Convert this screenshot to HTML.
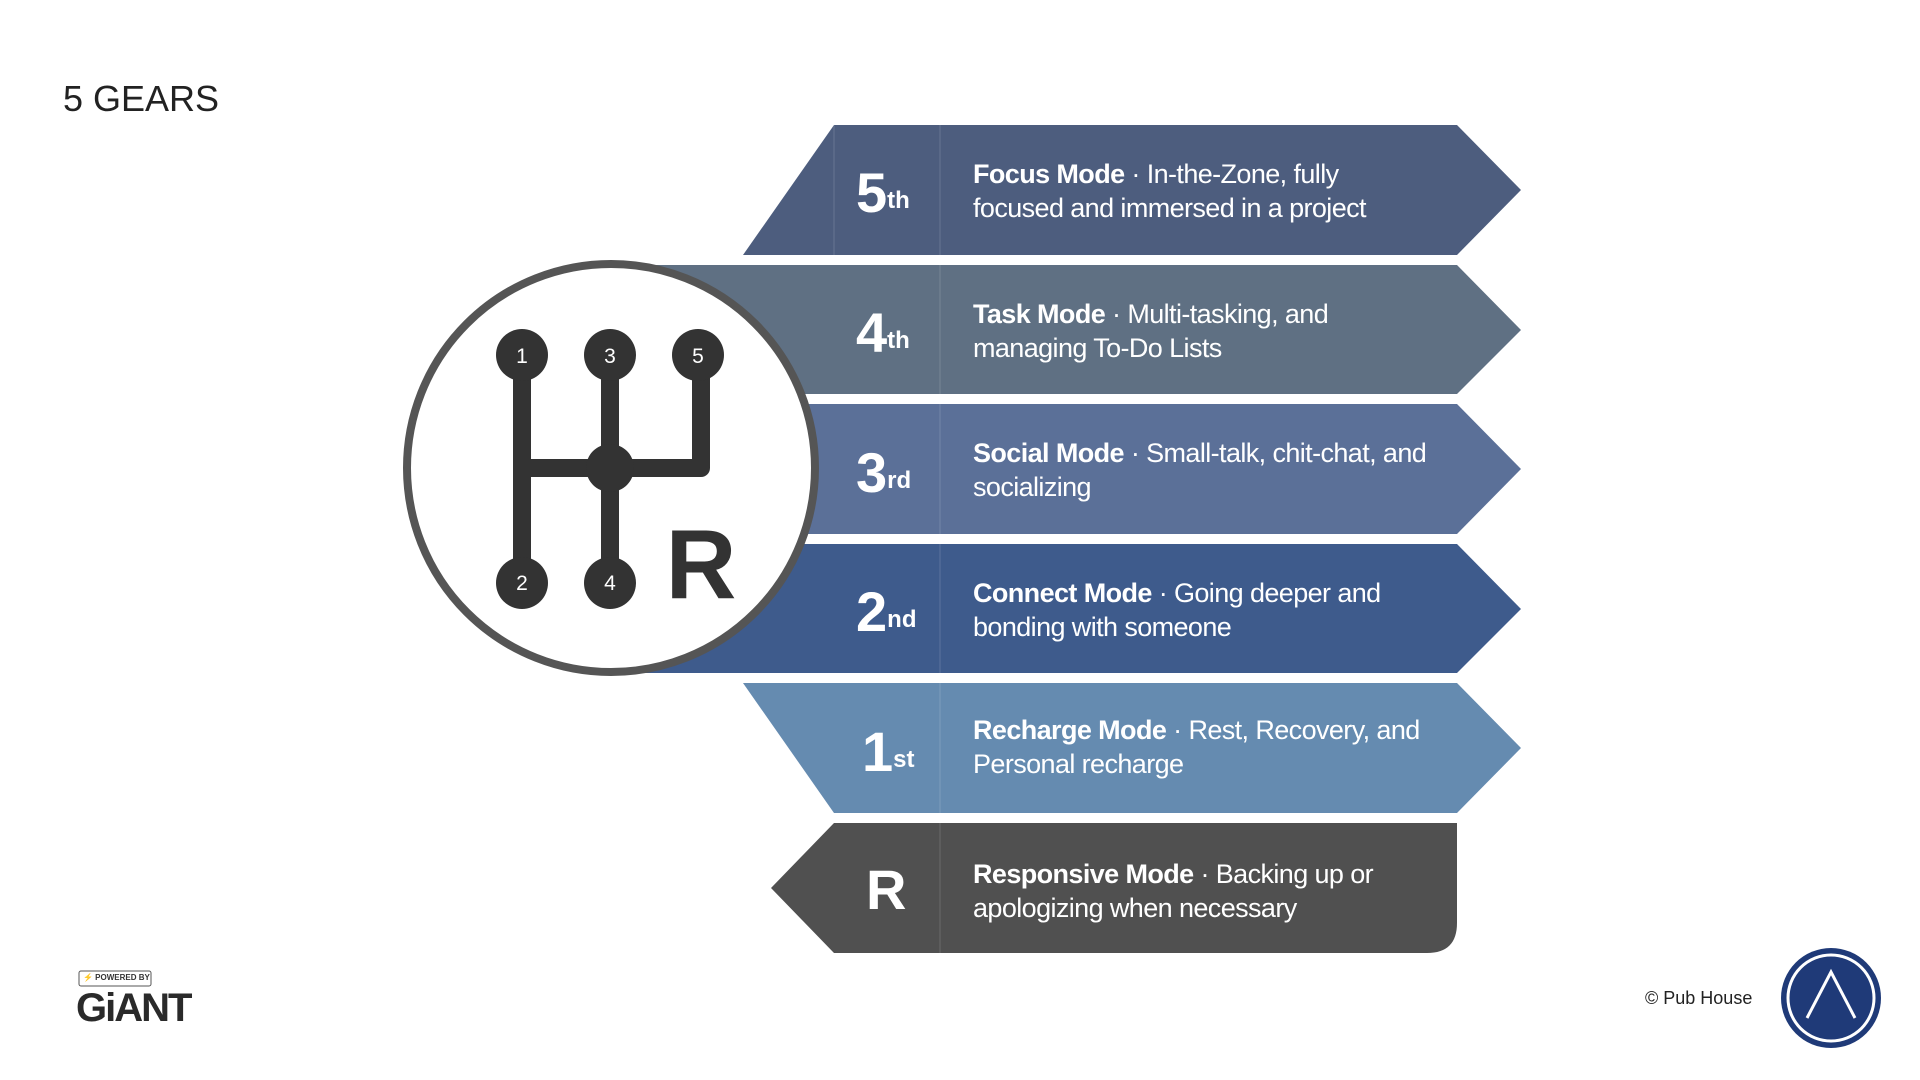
<!DOCTYPE html>
<html><head><meta charset="utf-8"><style>
body{margin:0;width:1920px;height:1080px;background:#fff;overflow:hidden;font-family:"Liberation Sans",Arial,sans-serif;position:relative}
.t{position:absolute;color:#fff;font-size:27px;line-height:34px;letter-spacing:-0.6px;left:973px;white-space:nowrap}
.n{position:absolute;color:#fff;font-weight:bold;font-size:56px;letter-spacing:-2px;left:856px}
.n sup{font-size:24px;vertical-align:0;position:relative;top:-4px;letter-spacing:0;margin-left:2px}
</style></head><body>
<div style="position:absolute;left:63px;top:78px;font-size:36px;color:#222">5 GEARS</div>
<svg width="1920" height="1080" style="position:absolute;left:0;top:0">
<polygon points="834,125 1457,125 1521,190 1457,255 743,255" fill="#4d5d7e"/>
<polygon points="637,265 1457,265 1521,330 1457,394 637,394" fill="#5f7083"/>
<polygon points="637,404 1457,404 1521,469 1457,534 637,534" fill="#5b7098"/>
<polygon points="637,544 1457,544 1521,609 1457,673 637,673" fill="#3e5b8c"/>
<polygon points="743,683 1457,683 1521,748 1457,813 834,813" fill="#658bb0"/>
<path d="M834,823 L1457,823 L1457,923 Q1457,953 1427,953 L834,953 L771,888 Z" fill="#505050"/>
<g stroke="rgba(255,255,255,0.08)" stroke-width="2">
<line x1="834" y1="125" x2="834" y2="255"/><line x1="940" y1="125" x2="940" y2="955"/>
</g>
<circle cx="611" cy="468" r="204" fill="#fff" stroke="#555" stroke-width="8"/>
<g fill="#333" stroke="#333">
<g stroke-width="18" fill="none" stroke-linejoin="round">
<line x1="522" y1="355" x2="522" y2="587"/><line x1="610" y1="355" x2="610" y2="587"/>
<polyline points="522,468 701,468 701,355"/>
</g>
<circle cx="522" cy="355" r="26" stroke="none"/><circle cx="610" cy="355" r="26" stroke="none"/><circle cx="698" cy="355" r="26" stroke="none"/>
<circle cx="522" cy="583" r="26" stroke="none"/><circle cx="610" cy="583" r="26" stroke="none"/>
<circle cx="610" cy="468" r="24" stroke="none"/>
</g>
<g fill="#fff" font-family="Liberation Sans" font-size="21" text-anchor="middle">
<text x="522" y="363">1</text><text x="610" y="363">3</text><text x="698" y="363">5</text>
<text x="522" y="590">2</text><text x="610" y="590">4</text>
</g>
<text x="701" y="598" font-family="Liberation Sans" font-weight="bold" font-size="98" fill="#333" text-anchor="middle">R</text>
<circle cx="1831" cy="998" r="50" fill="#1f3a78"/>
<circle cx="1831" cy="998" r="43" fill="none" stroke="#fff" stroke-width="3"/>
<polyline points="1807,1018 1831,972 1855,1018" fill="none" stroke="#fff" stroke-width="3"/>
<rect x="79" y="971" width="72" height="15" rx="2" fill="none" stroke="#555" stroke-width="1"/>
</svg>
<div class="n" style="top:160px">5<sup>th</sup></div>
<div class="n" style="top:300px">4<sup>th</sup></div>
<div class="n" style="top:440px">3<sup>rd</sup></div>
<div class="n" style="top:579px">2<sup>nd</sup></div>
<div class="n" style="top:719px;left:862px">1<sup>st</sup></div>
<div class="n" style="top:857px;left:866px">R</div>
<div class="t" style="top:157px"><b>Focus Mode</b> · In-the-Zone, fully<br>focused and immersed in a project</div>
<div class="t" style="top:297px"><b>Task Mode</b> · Multi-tasking, and<br>managing To-Do Lists</div>
<div class="t" style="top:436px"><b>Social Mode</b> · Small-talk, chit-chat, and<br>socializing</div>
<div class="t" style="top:576px"><b>Connect Mode</b> · Going deeper and<br>bonding with someone</div>
<div class="t" style="top:713px"><b>Recharge Mode</b> · Rest, Recovery, and<br>Personal recharge</div>
<div class="t" style="top:857px"><b>Responsive Mode</b> · Backing up or<br>apologizing when necessary</div>
<div style="position:absolute;left:83px;top:973px;font-size:8px;font-weight:bold;color:#333">⚡ POWERED BY</div>
<div style="position:absolute;left:76px;top:986px;font-size:40px;font-weight:bold;color:#2a2a2a;letter-spacing:-2px">GiANT</div>
<div style="position:absolute;left:1645px;top:988px;font-size:18px;color:#222">© Pub House</div>
</body></html>
